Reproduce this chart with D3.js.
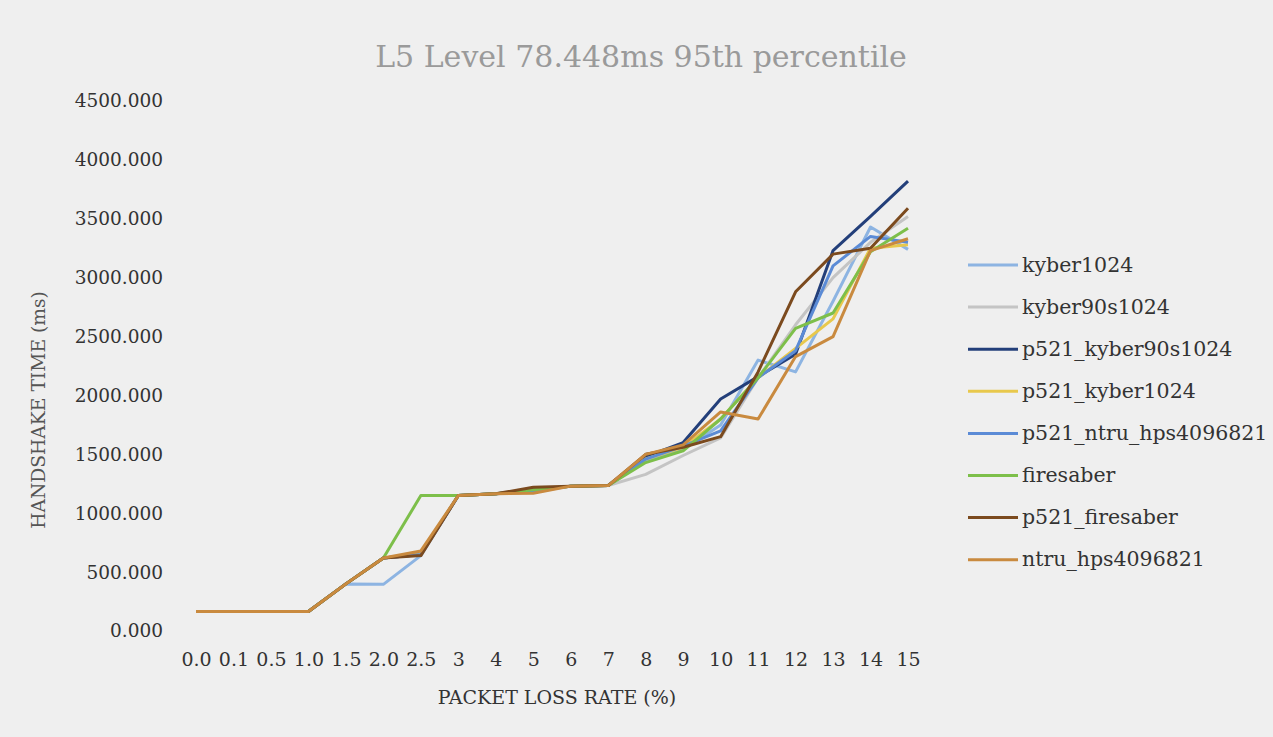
<!DOCTYPE html>
<html lang="en">
<head>
<meta charset="UTF-8">
<title>L5 Level 78.448ms 95th percentile</title>
<script src="https://d3js.org/d3.v7.min.js"></script>
<style>
    body {
        margin: 0;
        background-color: #efefef;
    }
    svg text {
        font-family: 'DejaVu Serif', serif;
    }
</style>
</head>
<body>
<svg id="chart" width="1273" height="737"></svg>
<script>
// packet loss rates on the x axis
const lossRates = ["0.0", "0.1", "0.5", "1.0", "1.5", "2.0", "2.5", "3", "4", "5",
    "6", "7", "8", "9", "10", "11", "12", "13", "14", "15"];
const yTicks = [0, 500, 1000, 1500, 2000, 2500, 3000, 3500, 4000, 4500];

const seriesNames = ["kyber1024", "kyber90s1024", "p521_kyber90s1024", "p521_kyber1024",
    "p521_ntru_hps4096821", "firesaber", "p521_firesaber", "ntru_hps4096821"];
const seriesColors = ["#8db4e2", "#c4c4c4", "#233f7a", "#e8c84c",
    "#5b8bd6", "#7dbf4a", "#7b4a1e", "#c98a3f"];

// handshake time (ms)
const kyber1024 = [165, 165, 165, 165, 400, 396, 640, 1150, 1165, 1180, 1230, 1235, 1450, 1540, 1750, 2300, 2200, 2800, 3430, 3240];
const kyber90s1024 = [165, 165, 165, 165, 400, 620, 650, 1150, 1165, 1190, 1230, 1235, 1330, 1490, 1640, 2150, 2600, 3000, 3300, 3520];
const p521Kyber90s1024 = [165, 165, 165, 165, 400, 620, 650, 1150, 1165, 1200, 1230, 1235, 1480, 1600, 1970, 2160, 2350, 3230, 3520, 3820];
const p521Kyber1024 = [165, 165, 165, 165, 400, 620, 660, 1150, 1165, 1190, 1230, 1235, 1460, 1560, 1800, 2150, 2400, 2650, 3250, 3280];
const p521Ntru = [165, 165, 165, 165, 400, 620, 650, 1150, 1165, 1190, 1230, 1235, 1460, 1570, 1700, 2150, 2380, 3100, 3350, 3300];
const firesaber = [165, 165, 165, 165, 400, 620, 1150, 1150, 1165, 1200, 1230, 1235, 1430, 1530, 1800, 2150, 2570, 2700, 3220, 3420];
const p521Firesaber = [165, 165, 165, 165, 400, 620, 640, 1150, 1165, 1220, 1230, 1235, 1500, 1560, 1650, 2200, 2880, 3200, 3250, 3590];
const ntruHps = [165, 165, 165, 165, 400, 620, 680, 1150, 1165, 1170, 1230, 1235, 1500, 1580, 1860, 1800, 2330, 2500, 3230, 3330];

const seriesValues = [kyber1024, kyber90s1024, p521Kyber90s1024, p521Kyber1024,
    p521Ntru, firesaber, p521Firesaber, ntruHps];

const svg = d3.select("#chart");

const x = d3.scalePoint()
    .domain(lossRates)
    .range([196, 908]);

const y = d3.scaleLinear()
    .domain([0, 4500])
    .range([631, 101]);

// title
svg.append("text")
    .attr("x", 641)
    .attr("y", 67)
    .attr("text-anchor", "middle")
    .attr("font-size", 30)
    .attr("fill", "#9a9a9a")
    .text("L5 Level 78.448ms 95th percentile");

// y axis
const yAxis = d3.axisLeft(y)
    .tickValues(yTicks)
    .tickFormat(d3.format(".3f"))
    .tickSize(0)
    .tickPadding(0);

const yG = svg.append("g")
    .attr("transform", "translate(163,0)")
    .call(yAxis);
yG.select(".domain").remove();
yG.selectAll("text")
    .attr("font-size", 18.5)
    .attr("fill", "#333")
    .attr("font-family", "'DejaVu Serif', serif");

// x axis
const xAxis = d3.axisBottom(x)
    .tickSize(0)
    .tickPadding(0);

const xG = svg.append("g")
    .attr("transform", "translate(0,652)")
    .call(xAxis);
xG.select(".domain").remove();
xG.selectAll("text")
    .attr("font-size", 19)
    .attr("fill", "#333")
    .attr("font-family", "'Liberation Serif', serif");

// axis titles
svg.append("text")
    .attr("transform", "translate(45,410) rotate(-90)")
    .attr("text-anchor", "middle")
    .attr("font-size", 18.7)
    .attr("fill", "#555")
    .text("HANDSHAKE TIME (ms)");

svg.append("text")
    .attr("x", 557)
    .attr("y", 704)
    .attr("text-anchor", "middle")
    .attr("font-size", 19)
    .attr("fill", "#333")
    .text("PACKET LOSS RATE (%)");

// lines
const line = d3.line()
    .x((d, i) => x(lossRates[i]))
    .y(d => y(d));

svg.append("g")
    .selectAll("path")
    .data(seriesValues)
    .enter()
    .append("path")
    .attr("d", line)
    .attr("fill", "none")
    .attr("stroke", (d, i) => seriesColors[i])
    .attr("stroke-width", 3)
    .attr("stroke-linejoin", "round");

// legend
const legend = svg.append("g")
    .selectAll("g")
    .data(seriesNames)
    .enter()
    .append("g")
    .attr("transform", (d, i) => `translate(968,${265 + i * 42.1})`);

legend.append("line")
    .attr("x1", 0)
    .attr("x2", 50)
    .attr("stroke", (d, i) => seriesColors[i])
    .attr("stroke-width", 3);

legend.append("text")
    .attr("x", 54)
    .attr("y", 6.5)
    .attr("font-size", 20.5)
    .attr("fill", "#333")
    .text(d => d);
</script>
</body>
</html>
